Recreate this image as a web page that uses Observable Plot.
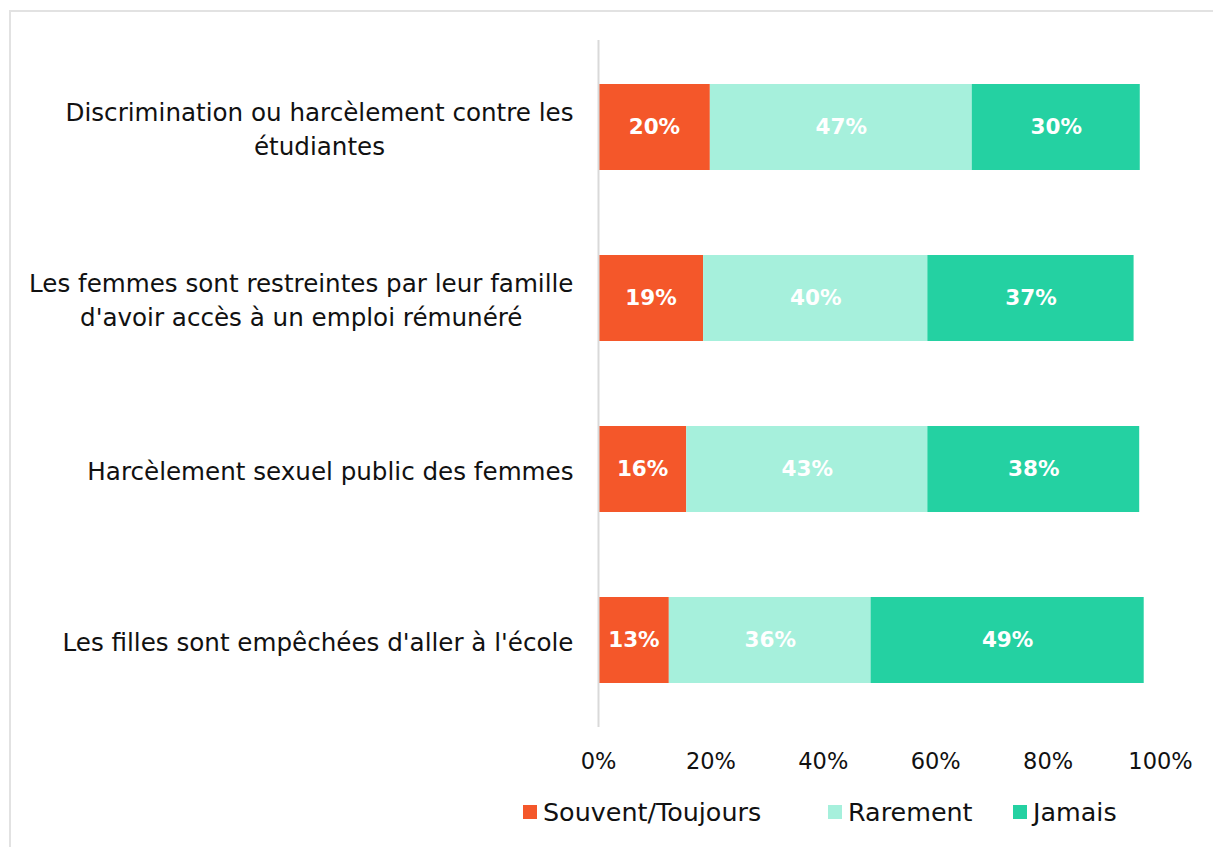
<!DOCTYPE html>
<html><head><meta charset="utf-8">
<script src="https://cdn.jsdelivr.net/npm/d3@7"></script>
<script src="https://cdn.jsdelivr.net/npm/@observablehq/plot@0.6"></script>
<style>
body{margin:0;background:#fff;font-family:"DejaVu Sans",sans-serif;overflow:hidden;width:1213px;height:847px}
#frame{position:absolute;left:9px;top:10px;width:1300px;height:1000px;border-left:2px solid #e2e2e2;border-top:2px solid #e2e2e2}
#chart{position:absolute;left:0;top:0}
#legend{position:absolute;top:796px;left:0;width:1213px;height:32px}
.item{position:absolute;top:0;display:flex;align-items:center;font-size:25.4px;color:#111;white-space:nowrap;height:32px}
.sw{width:14px;height:14px;margin-right:6px}
</style></head><body>
<div id="frame"></div><div id="chart"></div><div id="legend"></div>
<script>
const categories = [
  "Discrimination ou harcèlement contre les étudiantes",
  "Les femmes sont restreintes par leur famille d'avoir accès à un emploi rémunéré",
  "Harcèlement sexuel public des femmes",
  "Les filles sont empêchées d'aller à l'école"
];
const tickLabels = [
  "Discrimination ou harcèlement contre les\nétudiantes",
  "Les femmes sont restreintes par leur famille\nd'avoir accès à un emploi rémunéré",
  "Harcèlement sexuel public des femmes",
  "Les filles sont empêchées d'aller à l'école"
];
const series = ["Souvent/Toujours", "Rarement", "Jamais"];
const colors = ["#F4572A", "#A6F0DC", "#24D1A2"];
const souvent  = [19.9, 18.7, 15.7, 12.6];
const rarement = [46.6, 39.9, 42.9, 35.9];
const jamais   = [29.9, 36.7, 37.7, 48.6];
const xTicks = [0, 20, 40, 60, 80, 100];

const valuesBySeries = [souvent, rarement, jamais];
const data = [];
categories.forEach((c, i) => {
  series.forEach((s, j) => data.push({cat: c, series: s, value: valuesBySeries[j][i]}));
});

const catFont = 24.6;
const ctx = document.createElement("canvas").getContext("2d");
ctx.font = `${catFont}px "DejaVu Sans"`;
const blockW = tickLabels.map(t => Math.max(...t.split("\n").map(l => ctx.measureText(l).width)));

const catMarks = categories.map((c, i) => Plot.text([c], {
  y: d => d, text: () => tickLabels[i], frameAnchor: "left", textAnchor: "middle",
  dx: -25 - blockW[i] / 2, fontSize: catFont, fill: "#111", lineHeight: 1.36
}));

const chart = Plot.plot({
  width: 1213,
  height: 790,
  marginLeft: 598,
  marginRight: 53,
  marginTop: 40,
  marginBottom: 63,
  style: {fontFamily: "DejaVu Sans, sans-serif", background: "transparent"},
  x: {domain: [0, 100], axis: null},
  y: {domain: categories, axis: null, paddingInner: 0.5, paddingOuter: 0.25},
  color: {domain: series, range: colors},
  marks: [
    Plot.barX(data, {x: "value", y: "cat", fill: "series", order: series}),
    Plot.text(data, Plot.stackX({x: "value", y: "cat", z: "series", order: series,
      text: d => Math.round(d.value) + "%", fill: "white", fontWeight: "bold", fontSize: 21.5})),
    Plot.ruleX([0], {stroke: "#d9d9d9", strokeWidth: 2}),
    ...catMarks,
    Plot.axisX({ticks: xTicks, tickSize: 0, tickPadding: 26, fontSize: 22.5, fill: "#111",
      tickFormat: d => d + "%", label: null})
  ]
});
document.getElementById("chart").appendChild(chart);

const legendLefts = [523, 828, 1013];
const legend = document.getElementById("legend");
series.forEach((s, i) => {
  const it = document.createElement("div");
  it.className = "item";
  it.style.left = legendLefts[i] + "px";
  it.innerHTML = `<span class="sw" style="background:${colors[i]}"></span><span>${s}</span>`;
  legend.appendChild(it);
});
</script>
</body></html>
